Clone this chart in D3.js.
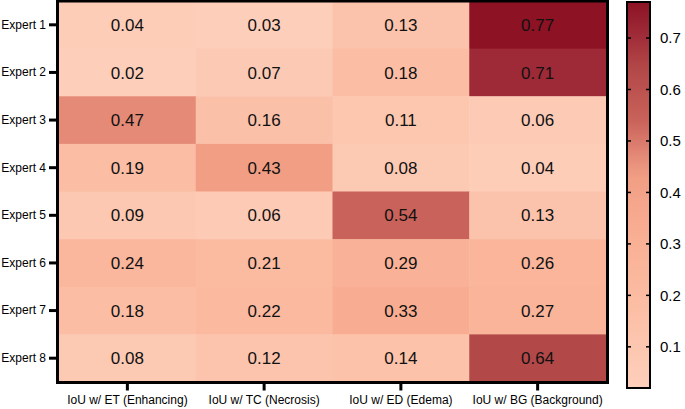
<!DOCTYPE html>
<html>
<head>
<meta charset="utf-8">
<script src="https://cdn.jsdelivr.net/npm/d3@7"></script>
<style>
  body { margin: 0; background: #fff; }
  text { font-family: "Liberation Sans", Arial, sans-serif; }
</style>
</head>
<body>
<div id="chart"></div>
<script>
var experts = ["Expert 1", "Expert 2", "Expert 3", "Expert 4", "Expert 5", "Expert 6", "Expert 7", "Expert 8"];
var classes = ["IoU w/ ET (Enhancing)", "IoU w/ TC (Necrosis)", "IoU w/ ED (Edema)", "IoU w/ BG (Background)"];
// one row per expert, columns follow classes
var values = [
  [0.04, 0.03, 0.13, 0.77],
  [0.02, 0.07, 0.18, 0.71],
  [0.47, 0.16, 0.11, 0.06],
  [0.19, 0.43, 0.08, 0.04],
  [0.09, 0.06, 0.54, 0.13],
  [0.24, 0.21, 0.29, 0.26],
  [0.18, 0.22, 0.33, 0.27],
  [0.08, 0.12, 0.14, 0.64]
];
var barTicks = [0.1, 0.2, 0.3, 0.4, 0.5, 0.6, 0.7];

var width = 685, height = 409,
  plot = {left: 59, right: 606, top: 1, bottom: 382},
  bar = {left: 627, right: 650, top: 2, bottom: 388};

var svg = d3.select("#chart").append("svg")
  .attr("width", width)
  .attr("height", height);

var x = d3.scaleBand().domain(classes).range([plot.left, plot.right]);
var y = d3.scaleBand().domain(experts).range([plot.top, plot.bottom]);

var color = d3.scaleLinear()
  .domain([0.02, 0.2, 0.33, 0.43, 0.47, 0.54, 0.64, 0.71, 0.77])
  .range(["#fdcfbb", "#fbbca2", "#f8ad92", "#f19e84", "#e48a77", "#c9625a", "#b34848", "#9e2a37", "#8c1224"])
  .clamp(true);

var cells = [];
values.forEach(function (row, i) {
  row.forEach(function (v, j) {
    cells.push({expert: experts[i], cls: classes[j], v: v});
  });
});

svg.selectAll("rect.cell")
  .data(cells)
  .enter().append("rect")
  .attr("class", "cell")
  .attr("x", function (d) { return x(d.cls); })
  .attr("y", function (d) { return y(d.expert); })
  .attr("width", x.bandwidth() + 0.5)
  .attr("height", y.bandwidth() + 0.5)
  .attr("fill", function (d) { return color(d.v); });

svg.selectAll("text.val")
  .data(cells)
  .enter().append("text")
  .attr("class", "val")
  .attr("x", function (d) { return x(d.cls) + x.bandwidth() / 2; })
  .attr("y", function (d) { return y(d.expert) + y.bandwidth() / 2; })
  .attr("dy", "0.36em")
  .attr("text-anchor", "middle")
  .attr("font-size", "17px")
  .attr("fill", "#111")
  .text(function (d) { return d.v.toFixed(2); });

// plot frame
svg.append("rect")
  .attr("x", plot.left - 1.5)
  .attr("y", plot.top)
  .attr("width", plot.right - plot.left + 3)
  .attr("height", plot.bottom - plot.top + 0.5)
  .attr("fill", "none")
  .attr("stroke", "#000")
  .attr("stroke-width", 3);

// axes
var yAxis = svg.append("g")
  .attr("transform", "translate(" + (plot.left - 3) + ",0)")
  .call(d3.axisLeft(y).tickSize(7).tickPadding(3));
var xAxis = svg.append("g")
  .attr("transform", "translate(0," + (plot.bottom + 1.5) + ")")
  .call(d3.axisBottom(x).tickSize(7).tickPadding(5));
[yAxis, xAxis].forEach(function (g) {
  g.select(".domain").remove();
  g.selectAll(".tick line").attr("stroke", "#000").attr("stroke-width", 3);
  g.selectAll(".tick text").attr("font-size", "12px").attr("fill", "#000")
    .attr("font-family", "'Liberation Sans', Arial, sans-serif");
});

// colour bar
var yBar = d3.scaleLinear().domain([0.02, 0.77]).range([bar.bottom, bar.top]);
var defs = svg.append("defs");
var grad = defs.append("linearGradient")
  .attr("id", "cbar")
  .attr("x1", 0).attr("y1", 1).attr("x2", 0).attr("y2", 0);
grad.selectAll("stop")
  .data(d3.range(0, 1.0001, 0.02))
  .enter().append("stop")
  .attr("offset", function (t) { return t; })
  .attr("stop-color", function (t) { return color(0.02 + t * 0.75); });

svg.append("rect")
  .attr("x", bar.left)
  .attr("y", bar.top)
  .attr("width", bar.right - bar.left)
  .attr("height", bar.bottom - bar.top)
  .attr("fill", "url(#cbar)")
  .attr("stroke", "#000")
  .attr("stroke-width", 2);

var barAxis = svg.append("g")
  .attr("transform", "translate(" + (bar.right + 1) + ",0)")
  .call(d3.axisRight(yBar).tickValues(barTicks).tickSize(0).tickPadding(9)
    .tickFormat(d3.format(".1f")));
barAxis.select(".domain").remove();
barAxis.selectAll(".tick text").attr("font-size", "15px").attr("fill", "#000")
  .attr("font-family", "'Liberation Sans', Arial, sans-serif");

// small inward ticks on both sides of the bar
svg.selectAll("line.btick")
  .data(barTicks.concat(barTicks))
  .enter().append("line")
  .attr("class", "btick")
  .attr("x1", function (d, i) { return i < barTicks.length ? bar.left : bar.right - 4; })
  .attr("x2", function (d, i) { return i < barTicks.length ? bar.left + 4 : bar.right; })
  .attr("y1", function (d) { return yBar(d); })
  .attr("y2", function (d) { return yBar(d); })
  .attr("stroke", "#000")
  .attr("stroke-width", 1.5);
</script>
</body>
</html>
